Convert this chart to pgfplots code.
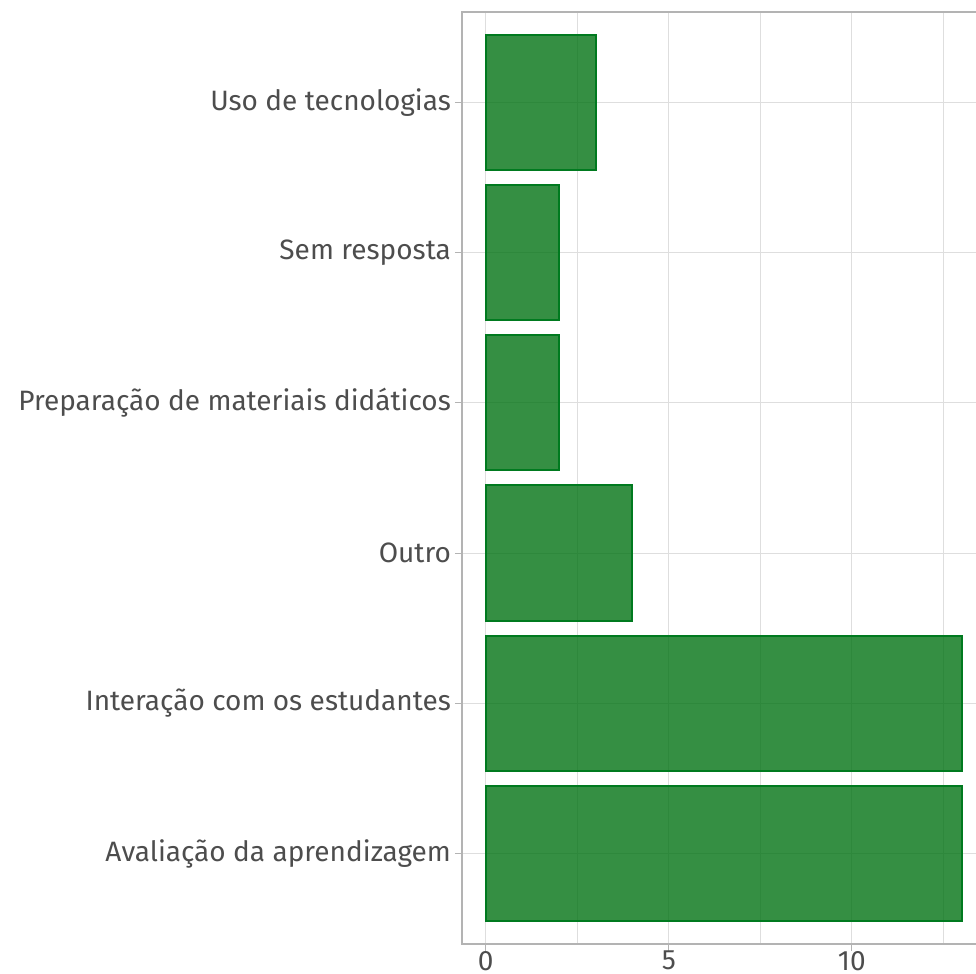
\documentclass[border=0pt]{standalone}
\usepackage{fontspec}
\setmainfont{Fira Sans}
\usepackage{pgfplots}
\pgfplotsset{compat=1.18}
\definecolor{barfill}{HTML}{027314}
\definecolor{barline}{HTML}{007A1F}
\definecolor{gridc}{HTML}{DEDEDE}
\definecolor{borderc}{HTML}{B3B3B3}
\definecolor{labc}{HTML}{4D4D4D}
\begin{document}
\begin{tikzpicture}
\begin{axis}[
  name=ax,
  scale only axis,
  width=261.7pt, height=466pt,
  xmin=-0.65, xmax=13.65,
  ymin=0.4, ymax=6.6,
  xbar, bar width=0.9,
  ytick={1,2,3,4,5,6},
  yticklabels={Avaliação da aprendizagem,Interação com os estudantes,Outro,Preparação de materiais didáticos,Sem resposta,Uso de tecnologias},
  xtick={0,5,10},
  minor xtick={2.5,7.5,12.5},
  minor tick length=0pt,
  major tick length=3.5pt,
  tick align=outside,
  tick pos=left,
  tick style={borderc, line width=0.6pt},
  xmajorgrids, ymajorgrids, xminorgrids,
  major grid style={gridc, line width=0.55pt},
  minor grid style={gridc, line width=0.3pt},
  axis line style={borderc, line width=0.7pt},
  /pgf/number format/assume math mode=true,
  tick label style={font=\fontsize{14}{16}\selectfont, text=labc},
  yticklabel style={xshift=1.5pt},
  xticklabel style={yshift=3.5pt},
  axis on top=false,
]
\addplot[fill=barfill, fill opacity=0.8, draw=barline, line width=1pt] coordinates {
  (13,1) (13,2) (4,3) (2,4) (2,5) (3,6)
};
\end{axis}
\pgfresetboundingbox
\path[use as bounding box] ([xshift=-231pt,yshift=-15pt]ax.south west) rectangle ([xshift=257pt,yshift=6pt]ax.north west);
\end{tikzpicture}
\end{document}
